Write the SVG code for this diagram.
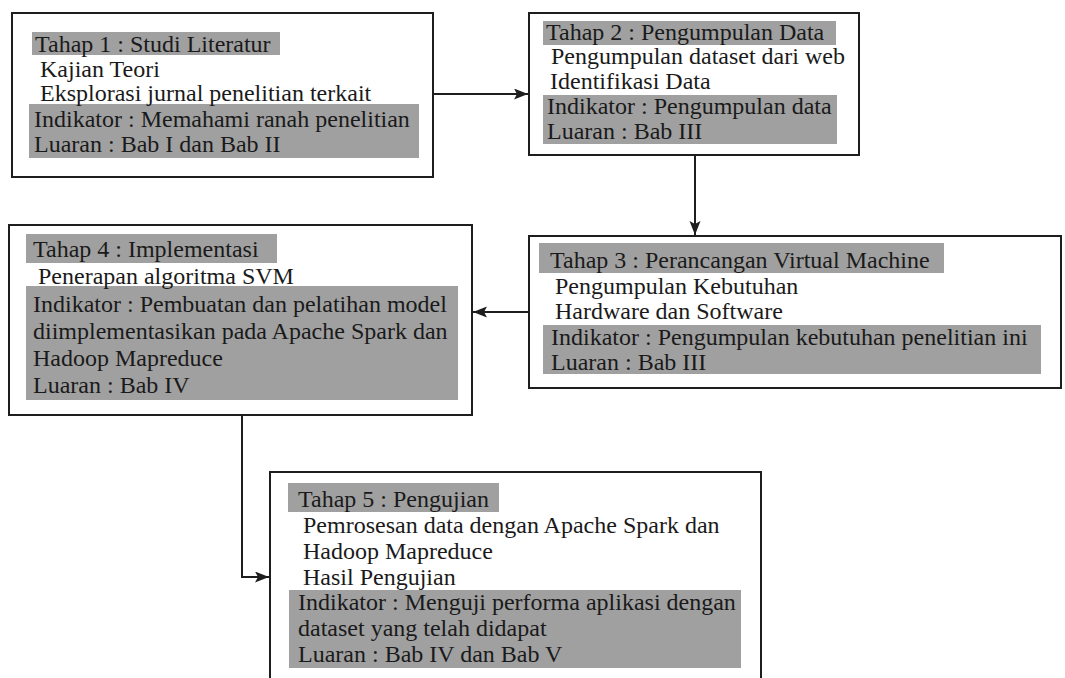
<svg xmlns="http://www.w3.org/2000/svg" width="1065" height="678" viewBox="0 0 1065 678">
<style>
.box{fill:#ffffff;stroke:#1e1e1e;stroke-width:2}
.hl{fill:#a0a0a0}
.t{font-family:"Liberation Serif","Times New Roman",serif;font-size:24px;fill:#1a1a1a}
.c{fill:none;stroke:#1e1e1e;stroke-width:2}
</style>
<defs>
<marker id="arr" markerUnits="userSpaceOnUse" markerWidth="16" markerHeight="12" refX="14" refY="5.5" orient="auto">
<path d="M0,0 L14,5.5 L0,11 L3,5.5 z" fill="#1e1e1e"/>
</marker>
</defs>
<rect width="1065" height="678" fill="#ffffff"/>
<g id="connectors">
<line class="c" x1="433" y1="94" x2="528" y2="94" marker-end="url(#arr)"/>
<line class="c" x1="695" y1="155" x2="695" y2="235" marker-end="url(#arr)"/>
<line class="c" x1="529" y1="312" x2="473" y2="312" marker-end="url(#arr)"/>
<polyline class="c" points="242,415 242,577 269,577" marker-end="url(#arr)"/>
</g>
<g id="node1">
<rect class="box" x="12" y="13" width="421" height="164"/>
<rect class="hl" x="32" y="32" width="248" height="23"/>
<rect class="hl" x="29" y="104" width="390" height="54"/>
<text class="t" x="35" y="52">Tahap 1 : Studi Literatur</text>
<text class="t" x="40" y="77">Kajian Teori</text>
<text class="t" x="40" y="101">Eksplorasi jurnal penelitian terkait</text>
<text class="t" x="34" y="127">Indikator : Memahami ranah penelitian</text>
<text class="t" x="34" y="152">Luaran : Bab I dan Bab II</text>
</g>
<g id="node2">
<rect class="box" x="529" y="13" width="330" height="142"/>
<rect class="hl" x="543" y="21" width="293" height="24"/>
<rect class="hl" x="543" y="95" width="294" height="49"/>
<text class="t" x="546" y="40">Tahap 2 : Pengumpulan Data</text>
<text class="t" x="551" y="64">Pengumpulan dataset dari web</text>
<text class="t" x="550" y="89">Identifikasi Data</text>
<text class="t" x="547" y="114">Indikator : Pengumpulan data</text>
<text class="t" x="547" y="139">Luaran : Bab III</text>
</g>
<g id="node3">
<rect class="box" x="529" y="236" width="532" height="152"/>
<rect class="hl" x="539" y="243" width="405" height="30"/>
<rect class="hl" x="543" y="325" width="498" height="49"/>
<text class="t" x="550" y="268">Tahap 3 : Perancangan Virtual Machine</text>
<text class="t" x="555" y="294">Pengumpulan Kebutuhan</text>
<text class="t" x="555" y="319">Hardware dan Software</text>
<text class="t" x="551" y="345">Indikator : Pengumpulan kebutuhan penelitian ini</text>
<text class="t" x="551" y="370">Luaran : Bab III</text>
</g>
<g id="node4">
<rect class="box" x="9" y="225" width="463" height="190"/>
<rect class="hl" x="26" y="234" width="251" height="29"/>
<rect class="hl" x="26" y="286" width="432" height="114"/>
<text class="t" x="33" y="257">Tahap 4 : Implementasi</text>
<text class="t" x="38" y="284">Penerapan algoritma SVM</text>
<text class="t" x="33" y="312">Indikator : Pembuatan dan pelatihan model</text>
<text class="t" x="33" y="339">diimplementasikan pada Apache Spark dan</text>
<text class="t" x="33" y="366">Hadoop Mapreduce</text>
<text class="t" x="33" y="393">Luaran : Bab IV</text>
</g>
<g id="node5">
<rect class="box" x="270" y="472" width="491" height="230"/>
<rect class="hl" x="288" y="483" width="211" height="29"/>
<rect class="hl" x="289" y="590" width="452" height="78"/>
<text class="t" x="298" y="507">Tahap 5 : Pengujian</text>
<text class="t" x="303" y="533">Pemrosesan data dengan Apache Spark dan</text>
<text class="t" x="303" y="559">Hadoop Mapreduce</text>
<text class="t" x="303" y="585">Hasil Pengujian</text>
<text class="t" x="298" y="610">Indikator : Menguji performa aplikasi dengan</text>
<text class="t" x="298" y="636">dataset yang telah didapat</text>
<text class="t" x="298" y="662">Luaran : Bab IV dan Bab V</text>
</g>
</svg>
